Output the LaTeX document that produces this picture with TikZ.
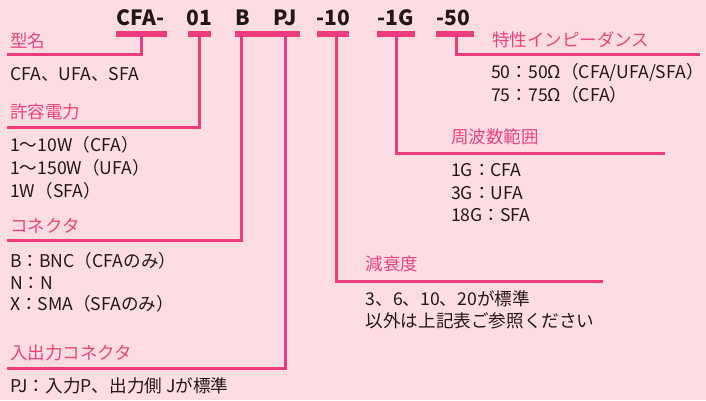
\documentclass[tikz,border=0pt]{standalone}
\usepackage{fontspec}
\setmainfont{Noto Sans CJK JP}
\definecolor{bg}{HTML}{FDDCE2}
\definecolor{pk}{HTML}{EE3D7F}
\definecolor{lab}{HTML}{EA4480}
\definecolor{tx}{HTML}{231815}
\tikzset{
  hdr/.style={font=\fontsize{21}{21}\selectfont\bfseries, text=tx, anchor=base, inner sep=0},
  lbl/.style={font=\fontsize{17.5}{17.5}\selectfont, text=lab, anchor=base west, inner sep=0},
  body/.style={font=\fontsize{17.6}{17.6}\selectfont, text=tx, anchor=base west, inner sep=0},
  bar/.style={fill=pk, inner sep=0, minimum height=6pt},
  conn/.style={draw=pk, line width=3pt}
}
\begin{document}
\begin{tikzpicture}[x=1pt,y=-1pt]
\useasboundingbox (0,0) rectangle (706,400);
\fill[bg] (0,0) rectangle (706,400);
% header codes
\node[hdr] (hA) at (140.5,25) {CFA-};
\node[hdr] (h01) at (199,25) {01};
\node[hdr] (hB) at (243,25) {B};
\node[hdr] (hPJ) at (285,25) {PJ};
\node[hdr] (h10) at (333,25) {-10};
\node[hdr] (h1G) at (396,25) {-1G};
\node[hdr] (h50) at (453,25) {-50};
% bars
\node[bar, minimum width=51pt] (bA) at (141.5,33.7) {};
\node[bar, minimum width=23pt] (b01) at (199.5,33.7) {};
\node[bar, minimum width=65pt] (bBP) at (267.5,33.7) {};
\node[bar, minimum width=32pt] (b10) at (333,33.7) {};
\node[bar, minimum width=38pt] (b1G) at (396,33.7) {};
\node[bar, minimum width=38pt] (b50) at (455,33.7) {};
% connector coordinates
\coordinate (eA) at (6.5,54);
\coordinate (e01) at (6.5,127);
\coordinate (xB) at (241.5,0);
\coordinate (eB) at (6.5,240);
\coordinate (xPJ) at (285.5,0);
\coordinate (ePJ) at (6.5,368);
\coordinate (x10) at (336.5,0);
\coordinate (e10) at (603,281.5);
\coordinate (e1G) at (665,153);
\coordinate (x50) at (456,0);
\coordinate (e50) at (700,54);
% connectors
\draw[conn] (bA.center) |- (eA);
\draw[conn] (b01.center) |- (e01);
\draw[conn] (bBP.center -| xB) |- (eB);
\draw[conn] (bBP.center -| xPJ) |- (ePJ);
\draw[conn] (b10.center -| x10) |- (e10);
\draw[conn] (b1G.center) |- (e1G);
\draw[conn] (b50.center -| x50) |- (e50);
% left column
\node[lbl] (lA) at (10,47) {型名};
\node[body] (tA) at (10,80) {CFA、UFA、SFA};
\node[lbl] (lP) at (10,118) {許容電力};
\node[body] (tP1) at (10,151) {1～10W（CFA）};
\node[body] (tP2) at (10,174) {1～150W（UFA）};
\node[body] (tP3) at (10,197) {1W（SFA）};
\node[lbl] (lB) at (10,232) {コネクタ};
\node[body] (tB1) at (10,267.5) {B：BNC（CFAのみ）};
\node[body] (tB2) at (10,289) {N：N};
\node[body] (tB3) at (10,310.5) {X：SMA（SFAのみ）};
\node[lbl] (lPJ) at (10,359) {入出力コネクタ};
\node[body] (tPJ) at (10,392) {PJ：入力P、出力側 Jが標準};
% attenuation
\node[lbl] (l10) at (365.5,270) {減衰度};
\node[body] (t101) at (365.5,305) {3、6、10、20が標準};
\node[body] (t102) at (365.5,327) {以外は上記表ご参照ください};
% frequency
\node[lbl] (l1G) at (451,143) {周波数範囲};
\node[body] (t1G1) at (451,176.5) {1G：CFA};
\node[body] (t1G2) at (451,199) {3G：UFA};
\node[body] (t1G3) at (451,221.5) {18G：SFA};
% impedance
\node[lbl] (l50) at (492,46) {特性インピーダンス};
\node[body] (t501) at (491,78.5) {50：50Ω（CFA/UFA/SFA）};
\node[body] (t502) at (491,101.5) {75：75Ω（CFA）};
\end{tikzpicture}
\end{document}
